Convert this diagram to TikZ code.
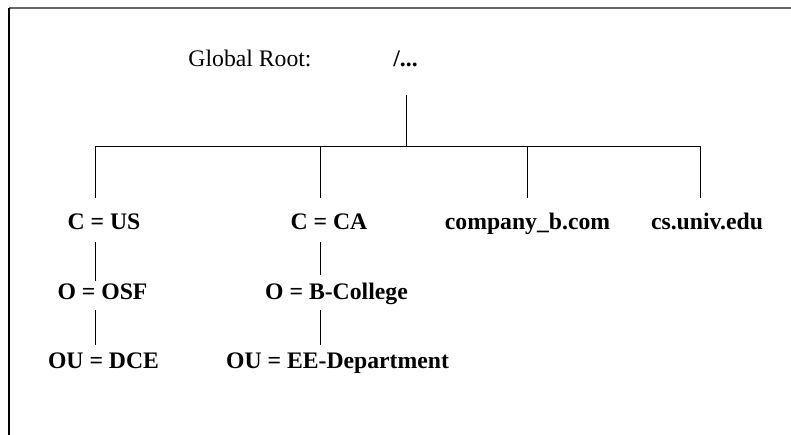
\documentclass[tikz,border=0pt]{standalone}
\usepackage{fontspec}
\setmainfont{Liberation Serif}
\begin{document}
\begin{tikzpicture}[x=1pt,y=-1pt,
  conn/.style={draw=black,line width=0.9pt},
  frame/.style={line width=1.2pt},
  txt/.style={anchor=base,inner xsep=0pt,font=\fontsize{23.7pt}{28pt}\selectfont},
  lbl/.style={txt,font=\bfseries\fontsize{23.7pt}{28pt}\selectfont},
  lvlone/.style={lbl,text height=26pt,text depth=6pt,inner ysep=6pt},
  lvltwo/.style={lbl,text height=18pt,text depth=5pt,inner ysep=6pt},
  lvlthree/.style={lbl,text height=17pt,text depth=5pt,inner ysep=6pt},
  rootlbl/.style={lbl,text height=17pt,text depth=28pt,inner ysep=0pt}]
\useasboundingbox (0,0) rectangle (791,435);
% frame
\coordinate (ftl) at (9,8);
\coordinate (ftr) at (791,8);
\coordinate (fbl) at (9,435);
\draw[frame,draw=black!60] (ftl) -- (ftr);
\draw[frame,draw=black] (ftl) -- (fbl);
% labels
\node[txt] (gr) at (250,67) {Global Root:};
\node[rootlbl] (root) at (405.5,67) {/...};
\node[lvlone] (cus) at (104,230) {C = US};
\node[lvlone] (cca) at (329,230) {C = CA};
\node[lvlone] (comp) at (527.5,230) {company\_b.com};
\node[lvlone] (csu) at (707,230) {cs.univ.edu};
\node[lvltwo] (oosf) at (102.5,299) {O = OSF};
\node[lvltwo] (ocol) at (336.5,299) {O = B-College};
\node[lvlthree] (oudce) at (103.5,368) {OU = DCE};
\node[lvlthree] (ouee) at (337.5,368) {OU = EE-Department};
% junctions on the bus
\coordinate (rj) at (406.7,146);
\coordinate (ja) at (95.7,146);
\coordinate (jb) at (320.5,146);
\coordinate (jc) at (527.7,146);
\coordinate (jd) at (700.7,146);
% connectors
\draw[conn] (root.south -| rj) -- (rj);
\draw[conn] (ja) -- (jd);
\draw[conn] (ja) -- (cus.north -| ja);
\draw[conn] (jb) -- (cca.north -| jb);
\draw[conn] (jc) -- (comp.north -| jc);
\draw[conn] (jd) -- (csu.north -| jd);
\draw[conn,shorten >=-6pt] (cus.south -| ja) -- (oosf.north -| ja);
\draw[conn] (oosf.south -| ja) -- (oudce.north -| ja);
\draw[conn] (cca.south -| jb) -- (ocol.north -| jb);
\draw[conn] (ocol.south -| jb) -- (ouee.north -| jb);
\end{tikzpicture}
\end{document}
